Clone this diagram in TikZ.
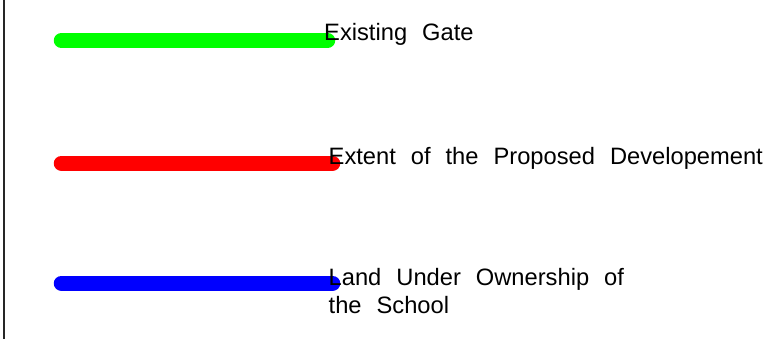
\documentclass[tikz,border=0pt]{standalone}
\usepackage{fontspec}
\setmainfont{Liberation Sans}
\newcommand\legfnt{\fontsize{23.7}{28.3}\selectfont\spaceskip=15pt\relax}
\begin{document}
\begin{tikzpicture}[x=1pt,y=-1pt,
  legline/.style={line width=15.5pt,line cap=round},
  legtext/.style={anchor=base west,inner sep=0pt}]
\useasboundingbox (0,0) rectangle (763,339);
\coordinate (bt) at (4.3,0);
\coordinate (bb) at (4.3,339);
\draw[line width=2pt,black!85] (bt) -- (bb);
\coordinate (g1) at (61.5,40.5);
\coordinate (g2) at (327.5,40.5);
\coordinate (r1) at (61.5,163.3);
\coordinate (r2) at (332.5,163.3);
\coordinate (b1) at (61.5,283.3);
\coordinate (b2) at (332.5,283.3);
\draw[legline,color={rgb,255:red,0;green,255;blue,0}] (g1) -- (g2);
\draw[legline,color={rgb,255:red,255;green,0;blue,0}] (r1) -- (r2);
\draw[legline,color={rgb,255:red,0;green,0;blue,255}] (b1) -- (b2);
\node[legtext] (gate) at (324,41) {\legfnt Existing Gate};
\node[legtext] (extent) at (328.5,165) {\legfnt Extent of the Proposed Developement};
\node[legtext] (land1) at (328.5,285) {\legfnt Land Under Ownership of};
\node[legtext] (land2) at (328.5,313.3) {\legfnt the School};
\end{tikzpicture}
\end{document}
